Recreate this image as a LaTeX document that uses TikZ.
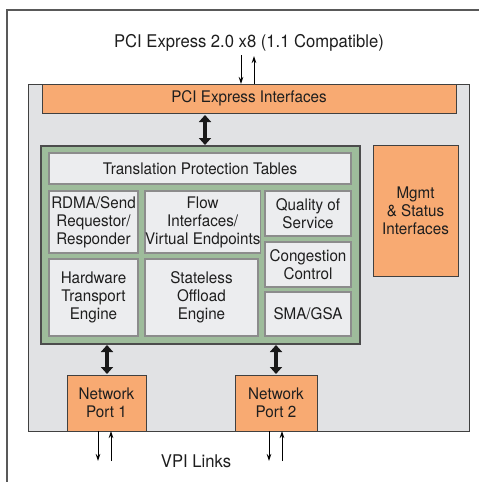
\documentclass[tikz,border=0pt]{standalone}
\usepackage{fontspec}
\setmainfont{TeX Gyre Heros}[FakeStretch=0.95]
\usetikzlibrary{arrows.meta}
\definecolor{orangef}{RGB}{248,170,114}
\definecolor{greenf}{RGB}{158,188,155}
\definecolor{grayf}{RGB}{225,226,228}
\definecolor{innerf}{RGB}{236,237,239}
\definecolor{txt}{RGB}{30,30,30}
\tikzset{
  x=1pt, y=-1pt,
  every node/.style={inner sep=0pt, outer sep=0pt, text=txt, align=center,
    font=\fontsize{16}{18}\selectfont},
  biglabel/.style={font=\fontsize{17.5}{19}\selectfont},
  orangebox/.style={fill=orangef, draw=black!75, line width=0.9pt, anchor=north west},
  greenbox/.style={fill=greenf, draw=black!70, line width=1.3pt, anchor=north west},
  graybox/.style={fill=grayf, draw=black!75, line width=0.9pt, anchor=north west},
  innerbox/.style={fill=innerf, draw=black!45, line width=1.3pt, anchor=north west},
  thinarr/.style={draw=black, line width=0.9pt, -{Stealth[length=7pt,width=4.5pt]}},
  thickarr/.style={draw=black!90, line width=4pt, {Triangle[length=7pt,width=12pt]}-{Triangle[length=7pt,width=12pt]}, shorten <=1pt, shorten >=1pt},
}
\begin{document}
\begin{tikzpicture}
\useasboundingbox (0,0) rectangle (479,482);
\fill[white] (0,0) rectangle (479,482);
% outer frame
\draw[black!65, line width=1.3pt] (7,485) -- (7,10) -- (482,10);
% top label
\node[biglabel] (toplabel) at (249,43) {PCI Express 2.0 x8 (1.1 Compatible)};
% gray chip box
\node[graybox, minimum width=441pt, minimum height=347pt] (chip) at (28,84) {};
% PCI Express interfaces
\node[orangebox, minimum width=414pt, minimum height=29pt] (pci) at (42,84) {PCI Express Interfaces};
% green box
\node[greenbox, minimum width=319pt, minimum height=198pt] (core) at (41,146) {};
% inner boxes
\node[innerbox, minimum width=302pt, minimum height=31pt] (tpt) at (49,153) {Translation Protection Tables};
\node[innerbox, minimum width=89pt, minimum height=62pt] (rdma) at (49,191) {RDMA/Send\\Requestor/\\Responder};
\node[innerbox, minimum width=113pt, minimum height=62pt] (flow) at (145,191) {Flow\\Interfaces/\\Virtual Endpoints};
\node[innerbox, minimum width=86pt, minimum height=45pt] (qos) at (265,191) {Quality of\\Service};
\node[innerbox, minimum width=86pt, minimum height=45pt] (cong) at (265,242) {Congestion\\Control};
\node[innerbox, minimum width=86pt, minimum height=44pt] (sma) at (265,292) {SMA/GSA};
\node[innerbox, minimum width=89pt, minimum height=77pt] (hte) at (49,259) {Hardware\\Transport\\Engine};
\node[innerbox, minimum width=113pt, minimum height=77pt] (soe) at (145,259) {Stateless\\Offload\\Engine};
% mgmt
\node[orangebox, minimum width=85pt, minimum height=131pt] (mgmt) at (373,145) {Mgmt\\\&~Status\\Interfaces};
% network ports
\node[orangebox, minimum width=79pt, minimum height=56pt] (np1) at (67,375) {Network\\Port~1};
\node[orangebox, minimum width=82pt, minimum height=56pt] (np2) at (235,375) {Network\\Port~2};
% bottom label
\node[biglabel] (vpi) at (196,461) {VPI Links};
% thick arrows
\draw[thickarr] (205,114) coordinate (ta) -- (ta |- core.north);
\draw[thickarr] (107,344) coordinate (tb) -- (tb |- np1.north);
\draw[thickarr] (276,344) coordinate (tc) -- (tc |- np2.north);
% thin arrows PCI
\coordinate (pd) at (241,55);
\coordinate (pu) at (254,56);
\draw[thinarr] (pd) -- (pd |- pci.north);
\draw[thinarr] (pu |- pci.north) -- (pu);
% thin arrows VPI
\coordinate (v1d) at (98,461);
\coordinate (v1u) at (111,461);
\coordinate (v2d) at (269,461);
\coordinate (v2u) at (282,461);
\draw[thinarr] (v1d |- np1.south) -- (v1d);
\draw[thinarr] (v1u) -- (v1u |- np1.south);
\draw[thinarr] (v2d |- np2.south) -- (v2d);
\draw[thinarr] (v2u) -- (v2u |- np2.south);
\end{tikzpicture}
\end{document}
